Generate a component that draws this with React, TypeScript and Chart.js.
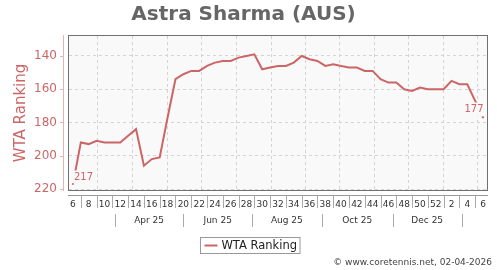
import React, { useEffect, useRef } from 'react';
import { Chart, registerables } from 'chart.js';

Chart.register(...registerables);

const TITLE = 'Astra Sharma (AUS)';
const SERIES_LABEL = 'WTA Ranking';
const FOOTER = '© www.coretennis.net, 02-04-2026';

// ISO weeks from week 6 of 2025 to week 6 of 2026
const weeks = [
  6, 7, 8, 9, 10, 11, 12, 13, 14, 15, 16, 17, 18, 19, 20, 21, 22, 23, 24, 25, 26, 27,
  28, 29, 30, 31, 32, 33, 34, 35, 36, 37, 38, 39, 40, 41, 42, 43, 44, 45, 46, 47, 48,
  49, 50, 51, 52, 1, 2, 3, 4, 5, 6,
];

const rankings = [
  217, 192, 193, 191, 192, 192, 192, 188, 184, 206, 202, 201, 177, 154, 151, 149, 149,
  146, 144, 143, 143, 141, 140, 139, 148, 147, 146, 146, 144, 140, 142, 143, 146, 145,
  146, 147, 147, 149, 149, 154, 156, 156, 160, 161, 159, 160, 160, 160, 155, 157, 157,
  167, 177,
];

const yTicks = [140, 160, 180, 200, 220];

// month boundaries, in week-index units along the x axis
const monthGridWeeks = [3.09, 7.53, 11.89, 16.27, 20.64, 25.07, 29.46, 33.77, 38.17, 42.48, 46.88, 51.27];
const periodLabels = ['Apr 25', 'Jun 25', 'Aug 25', 'Oct 25', 'Dec 25'];
const periodLabelWeeks = [9.66, 18.35, 27.12, 36.04, 44.92];
const periodSeparatorWeeks = [5.33, 13.99, 22.7, 31.54, 40.54, 49.29];

const FONT = '"DejaVu Sans", "Liberation Sans", sans-serif';
const RED = '#cc6666';
const PLOT_BG = '#f9f9f9';
const GRID = '#d4d4d4';

const decorPlugin = {
  id: 'decor',
  beforeDraw(chart: any) {
    const { ctx, chartArea: a } = chart;
    ctx.save();
    ctx.fillStyle = '#ffffff';
    ctx.fillRect(0, 0, chart.width, chart.height);
    ctx.fillStyle = PLOT_BG;
    ctx.fillRect(a.left, a.top, a.right - a.left, a.bottom - a.top);
    ctx.restore();
  },
  beforeDatasetsDraw(chart: any) {
    const { ctx, chartArea: a } = chart;
    const xs = chart.scales.x;
    ctx.save();
    ctx.strokeStyle = GRID;
    ctx.lineWidth = 1;
    ctx.setLineDash([3, 3]);
    monthGridWeeks.forEach((w) => {
      const px = Math.round(xs.getPixelForValue(w)) + 0.5;
      ctx.beginPath();
      ctx.moveTo(px, a.top);
      ctx.lineTo(px, a.bottom);
      ctx.stroke();
    });
    ctx.restore();
  },
  afterDatasetsDraw(chart: any) {
    const { ctx, chartArea: a } = chart;
    const meta = chart.getDatasetMeta(0);
    const pts = meta.data;
    const first = pts[0];
    const last = pts[pts.length - 1];
    ctx.save();
    ctx.font = `10px ${FONT}`;
    ctx.textBaseline = 'middle';
    const drawLabel = (text: string, x: number, cy: number, align: 'left' | 'right') => {
      const w = ctx.measureText(text).width;
      const x0 = align === 'left' ? x : x - w;
      ctx.fillStyle = PLOT_BG;
      ctx.fillRect(x0 - 2, cy - 7, w + 4, 14);
      ctx.fillStyle = RED;
      ctx.textAlign = 'left';
      ctx.fillText(text, x0, cy);
    };
    drawLabel(String(rankings[0]), first.x + 1, first.y - 6.5, 'left');
    drawLabel(String(rankings[rankings.length - 1]), last.x + 0.5, last.y - 8, 'right');
    ctx.fillStyle = RED;
    [first, last].forEach((p: any) => {
      ctx.beginPath();
      ctx.arc(p.x, p.y, 1, 0, Math.PI * 2);
      ctx.fill();
    });
    // plot frame
    ctx.strokeStyle = '#707070';
    ctx.lineWidth = 1;
    ctx.strokeRect(a.left - 0.5, a.top - 0.5, a.right - a.left + 1, a.bottom - a.top + 1);
    ctx.restore();
  },
  afterDraw(chart: any) {
    const { ctx, chartArea: a } = chart;
    const xs = chart.scales.x;
    const ys = chart.scales.y;
    ctx.save();
    // y axis line and ticks
    ctx.strokeStyle = '#e2b4b4';
    ctx.lineWidth = 1;
    ctx.beginPath();
    ctx.moveTo(63.5, a.top - 1);
    ctx.lineTo(63.5, a.bottom + 1);
    ctx.stroke();
    yTicks.forEach((v) => {
      const py = Math.round(ys.getPixelForValue(v)) + 0.5;
      ctx.beginPath();
      ctx.moveTo(60, py);
      ctx.lineTo(63.5, py);
      ctx.stroke();
    });
    // x axis line
    const axisY = a.bottom + 5.5;
    ctx.strokeStyle = '#999999';
    ctx.beginPath();
    ctx.moveTo(a.left - 1, axisY);
    ctx.lineTo(a.right + 1, axisY);
    ctx.stroke();
    // week tick separators (odd weeks)
    ctx.strokeStyle = '#aaaaaa';
    weeks.forEach((w, i) => {
      if (w % 2 === 0) return;
      const px = Math.round(xs.getPixelForValue(i)) + 0.5;
      ctx.beginPath();
      ctx.moveTo(px, axisY);
      ctx.lineTo(px, axisY + 12.5);
      ctx.stroke();
    });
    // second row: period separators + labels
    periodSeparatorWeeks.forEach((w) => {
      const px = Math.round(xs.getPixelForValue(w)) + 0.5;
      ctx.beginPath();
      ctx.moveTo(px, a.bottom + 24);
      ctx.lineTo(px, a.bottom + 37);
      ctx.stroke();
    });
    ctx.fillStyle = '#333333';
    ctx.font = `9px ${FONT}`;
    ctx.textAlign = 'center';
    ctx.textBaseline = 'middle';
    periodLabels.forEach((t, i) => {
      ctx.fillText(t, xs.getPixelForValue(periodLabelWeeks[i]), a.bottom + 31);
    });
    // legend
    ctx.font = `11.5px ${FONT}`;
    const tw = ctx.measureText(SERIES_LABEL).width;
    const boxW = 21 + tw + 3;
    const boxX = Math.round(chart.width / 2 - boxW / 2) + 0.5;
    const boxY = 237.5;
    const boxH = 16;
    ctx.fillStyle = '#ffffff';
    ctx.fillRect(boxX, boxY, boxW, boxH);
    ctx.strokeStyle = '#999999';
    ctx.strokeRect(boxX, boxY, boxW, boxH);
    ctx.strokeStyle = RED;
    ctx.lineWidth = 2;
    ctx.beginPath();
    ctx.moveTo(boxX + 4, boxY + 8);
    ctx.lineTo(boxX + 17, boxY + 8);
    ctx.stroke();
    ctx.fillStyle = '#222222';
    ctx.textAlign = 'left';
    ctx.fillText(SERIES_LABEL, boxX + 21, boxY + 8.5);
    // footer
    ctx.font = `9px ${FONT}`;
    ctx.fillStyle = '#444444';
    ctx.textAlign = 'right';
    ctx.fillText(FOOTER, 492, 263);
    ctx.restore();
  },
};

export default function App() {
  const canvasRef = useRef<HTMLCanvasElement | null>(null);

  useEffect(() => {
    document.body.style.margin = '0';
    const canvas = canvasRef.current;
    if (!canvas) return;
    const chart = new Chart(canvas, {
      type: 'line',
      data: {
        labels: weeks.map(String),
        datasets: [
          {
            label: SERIES_LABEL,
            data: rankings,
            borderColor: RED,
            backgroundColor: RED,
            borderWidth: 2,
            pointRadius: 0,
            tension: 0,
            fill: false,
          },
        ],
      },
      options: {
        animation: false,
        responsive: false,
        maintainAspectRatio: false,
        layout: { padding: { left: 0, right: 13, top: 0, bottom: 0 } },
        plugins: {
          legend: { display: false },
          tooltip: { enabled: false },
          title: {
            display: true,
            text: TITLE,
            color: '#666666',
            font: { family: FONT, size: 20, weight: 'bold', lineHeight: 1.2 },
            padding: { top: 3, bottom: 9 },
          },
        },
        scales: {
          x: {
            type: 'category',
            offset: true,
            grid: { display: false, drawTicks: false },
            border: { display: false },
            ticks: {
              autoSkip: false,
              maxRotation: 0,
              minRotation: 0,
              padding: 9,
              color: '#333333',
              font: { family: FONT, size: 9 },
              callback: (_v: any, i: number) => (weeks[i] % 2 === 0 ? String(weeks[i]) : ''),
            },
            afterFit: (s: any) => {
              s.height = 80;
            },
          },
          y: {
            reverse: true,
            min: 128,
            max: 220.6,
            afterBuildTicks: (s: any) => {
              s.ticks = yTicks.map((v) => ({ value: v }));
            },
            grid: { color: GRID, drawTicks: false, lineWidth: 1 },
            border: { display: false, dash: [3, 3] },
            ticks: {
              padding: 12,
              color: RED,
              font: { family: FONT, size: 12 },
            },
            title: {
              display: true,
              text: SERIES_LABEL,
              color: RED,
              font: { family: FONT, size: 15 },
              padding: { top: 12, bottom: 0 },
            },
            afterFit: (s: any) => {
              s.width = 69;
            },
          },
        },
      },
      plugins: [decorPlugin],
    });
    return () => chart.destroy();
  }, []);

  return (
    <div style={{ width: 500, height: 270 }}>
      <canvas ref={canvasRef} width={500} height={270} style={{ display: 'block' }} />
    </div>
  );
}
